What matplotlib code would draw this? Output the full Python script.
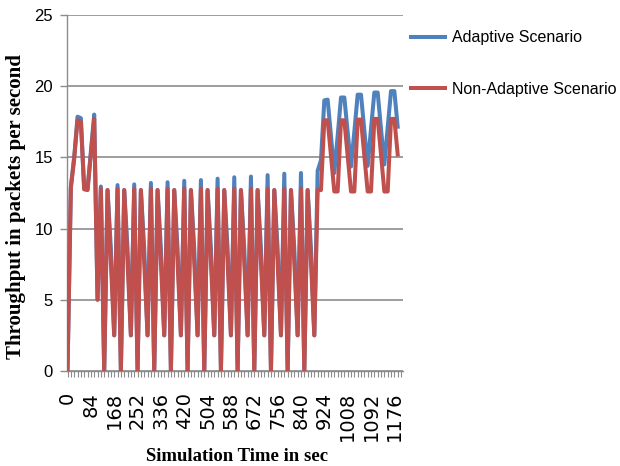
import matplotlib
matplotlib.use("Agg")
import matplotlib.pyplot as plt
from matplotlib.ticker import MultipleLocator, FixedLocator

# sample times, one every 12 sec
step = 12
times = [i * step for i in range(100)]

adaptive = [
    0, 12.95, 15.0, 17.85, 17.75, 12.8, 12.75, 15.4, 18.0, 5.0,
    12.95, 0, 12.7, 8.6, 2.5, 13.05, 0, 12.7, 8.6, 2.5,
    13.1, 0, 12.7, 8.6, 2.5, 13.2, 0, 12.7, 8.6, 2.5,
    13.25, 0, 12.7, 8.6, 2.5, 13.35, 0, 12.7, 8.6, 2.5,
    13.4, 0, 12.7, 8.6, 2.5, 13.5, 0, 12.7, 8.6, 2.5,
    13.6, 0, 12.7, 8.6, 2.5, 13.65, 0, 12.7, 8.6, 2.5,
    13.75, 0, 12.7, 8.6, 2.5, 13.85, 0, 12.7, 8.6, 2.5,
    13.9, 0, 12.7, 8.6, 2.5, 14.05, 14.8, 19.0, 19.05, 16.5,
    13.9, 16.5, 19.2, 19.2, 16.8, 14.35, 16.8, 19.4, 19.4, 16.9,
    14.4, 17.0, 19.55, 19.55, 17.0, 14.5, 17.1, 19.65, 19.65, 17.15,
]

non_adaptive = [
    0, 12.85, 14.9, 17.6, 17.5, 12.75, 12.7, 15.2, 17.7, 5.0,
    12.8, 0, 12.7, 7.6, 2.5, 12.8, 0, 12.7, 7.6, 2.5,
    12.8, 0, 12.7, 7.6, 2.5, 12.8, 0, 12.7, 7.6, 2.5,
    12.8, 0, 12.7, 7.6, 2.5, 12.8, 0, 12.7, 7.6, 2.5,
    12.8, 0, 12.7, 7.6, 2.5, 12.8, 0, 12.7, 7.6, 2.5,
    12.8, 0, 12.7, 7.6, 2.5, 12.8, 0, 12.7, 7.6, 2.5,
    12.8, 0, 12.7, 7.6, 2.5, 12.8, 0, 12.7, 7.6, 2.5,
    12.8, 0, 12.7, 7.6, 2.5, 12.7, 12.7, 17.6, 17.6, 15.1,
    12.6, 12.6, 17.6, 17.6, 15.1, 12.6, 12.6, 17.65, 17.65, 15.1,
    12.6, 12.6, 17.7, 17.7, 15.2, 12.6, 12.6, 17.7, 17.7, 15.2,
]

labelled_times = list(range(0, 1177, 84))
y_ticks = [0, 5, 10, 15, 20, 25]

blue = "#4f81bd"
red = "#c0504d"
grey = "#8c8c8c"

fig = plt.figure(figsize=(6.2, 4.66), dpi=100)
ax = fig.add_axes([0.108, 0.204, 0.5415, 0.764])

ax.plot(times, adaptive, color=blue, lw=2.9, label="Adaptive Scenario",
        solid_joinstyle="round", zorder=3)
ax.plot(times, non_adaptive, color=red, lw=2.9, label="Non-Adaptive Scenario",
        solid_joinstyle="round", zorder=4)

ax.set_xlim(-2, 1206)
ax.set_ylim(0, 25)
ax.yaxis.set_major_locator(FixedLocator(y_ticks))
ax.xaxis.set_major_locator(FixedLocator(labelled_times))
ax.xaxis.set_minor_locator(MultipleLocator(step))

ax.grid(axis="y", color=grey, lw=1.2)
ax.set_axisbelow(True)
for side in ("top", "right"):
    ax.spines[side].set_visible(False)
for side in ("left", "bottom"):
    ax.spines[side].set_color(grey)
    ax.spines[side].set_linewidth(1.0)

ax.tick_params(axis="y", colors=grey, length=5, width=1.0, pad=5)
ax.tick_params(axis="x", which="both", colors=grey, length=4, width=0.8, pad=11)
for lbl in ax.get_yticklabels():
    lbl.set_color("black")
    lbl.set_fontfamily("Liberation Sans")
    lbl.set_fontsize(12)
ax.set_xticklabels([str(t) for t in labelled_times], rotation=90,
                   family="DejaVu Sans", fontsize=14, color="black")

fig.text(0.026, 0.556, "Throughput in packets per second", family="Liberation Serif",
         fontweight="bold", fontsize=15, rotation=90, ha="center", va="center")
fig.text(0.382, 0.038, "Simulation Time in sec", family="Liberation Serif",
         fontweight="bold", fontsize=13.5, ha="center", va="top")

fig.legend(loc="upper left", bbox_to_anchor=(0.663, 0.935), frameon=False,
           prop={"family": "Liberation Sans", "size": 11.5},
           handlelength=2.1, handletextpad=0.45, labelspacing=2.3,
           borderpad=0, borderaxespad=0)

fig.savefig("out.png", dpi=100)
